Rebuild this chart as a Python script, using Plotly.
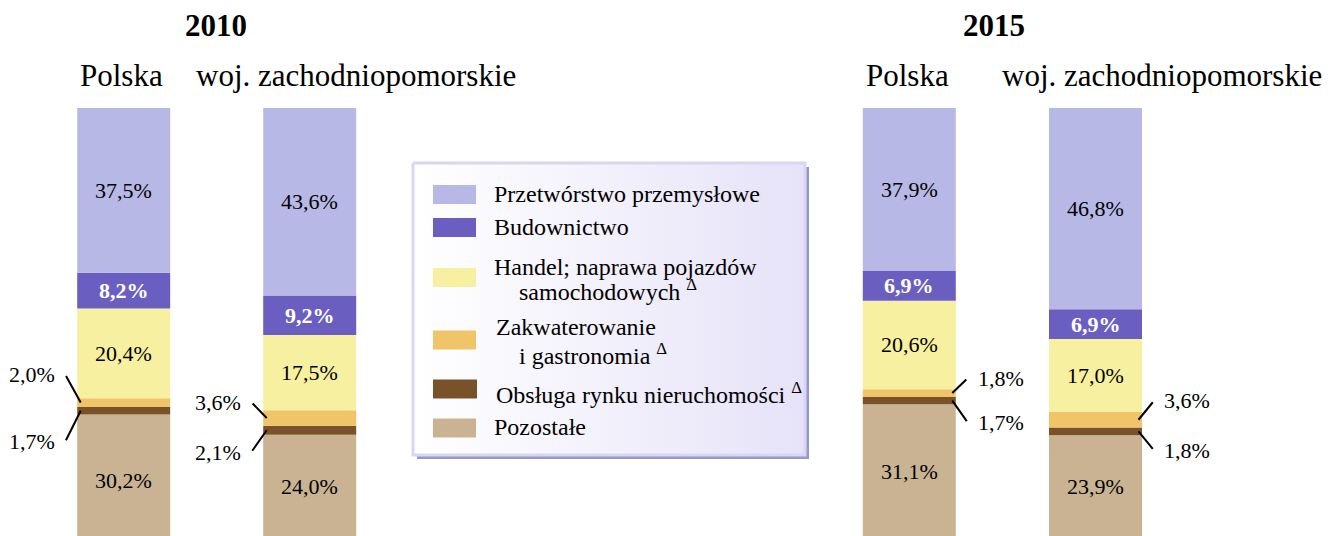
import plotly.graph_objects as go

# ---------------- data ----------------
bar_year = ["2010", "2010", "2015", "2015"]
bar_names = ["Polska", "woj. zachodniopomorskie", "Polska", "woj. zachodniopomorskie"]

pozostale = [30.2, 24.0, 31.1, 23.9]
obsluga = [1.7, 2.1, 1.7, 1.8]
zakwaterowanie = [2.0, 3.6, 1.8, 3.6]
handel = [20.4, 17.5, 20.6, 17.0]
budownictwo = [8.2, 9.2, 6.9, 6.9]
przetworstwo = [37.5, 43.6, 37.9, 46.8]

# stacking order: bottom -> top
series_values = [pozostale, obsluga, zakwaterowanie, handel, budownictwo, przetworstwo]
series_names = ["Pozostałe", "Obsługa rynku nieruchomości", "Zakwaterowanie i gastronomia",
                "Handel; naprawa pojazdów samochodowych", "Budownictwo", "Przetwórstwo przemysłowe"]
legend_lines = [
    ["Pozostałe"],
    ["Obsługa rynku nieruchomości <sup>Δ</sup>"],
    ["Zakwaterowanie", "i gastronomia <sup>Δ</sup>"],
    ["Handel; naprawa pojazdów", "samochodowych <sup>Δ</sup>"],
    ["Budownictwo"],
    ["Przetwórstwo przemysłowe"],
]

# ---------------- style / layout ----------------
colors = ["#c9b393", "#7a5229", "#f0c468", "#f7f0a0", "#6a5fc1", "#b8b8e6"]
W, H = 1344, 536
FONT = "Liberation Serif, Times New Roman, serif"
BAR_X = [123.7, 309.7, 909.3, 1095.5]
BAR_W = 93
BAR_AXIS = ["y2", "y", "y", "y"]
inside_series = [0, 3, 4, 5]
small_series = [2, 1]          # zakwaterowanie (up), obsluga (down)
lead_side = [-1, -1, 1, 1]     # -1 left of bar, 1 right of bar
lead_up = [28, 16, 15, 19]
lead_down = [31, 22, 22, 19]


def px(x):
    return x / W


def py(y):
    return 1 - y / H


fig = go.Figure()
annotations = []
shapes = []

# legend box: shadow + gradient panel
LB = dict(x0=413, x1=805, y0=163, y1=455)
shapes.append(dict(type="rect", xref="paper", yref="paper",
                   x0=px(LB["x0"] + 4), x1=px(LB["x1"] + 4), y0=py(LB["y1"] + 4), y1=py(LB["y0"] + 4),
                   fillcolor="#9a98c6", line=dict(width=0), layer="below"))
fig.add_trace(go.Scatter(
    x=[LB["x0"], LB["x1"], LB["x1"], LB["x0"], LB["x0"]],
    y=[LB["y0"], LB["y0"], LB["y1"], LB["y1"], LB["y0"]],
    xaxis="x", yaxis="y3", mode="lines", fill="toself",
    fillgradient=dict(type="horizontal", colorscale=[[0, "#ffffff"], [1, "#e6e2f8"]]),
    line=dict(color="#d8d6f4", width=3), hoverinfo="skip", showlegend=False))

# bars
n = len(bar_year)
bases = [[0.0] * n]
for s in series_values:
    bases.append([bases[-1][i] + s[i] for i in range(n)])

for si, vals in enumerate(series_values):
    for ax in ["y", "y2"]:
        idx = [i for i in range(n) if BAR_AXIS[i] == ax]
        fig.add_trace(go.Bar(
            x=[BAR_X[i] for i in idx], y=[vals[i] for i in idx], base=[bases[si][i] for i in idx],
            width=BAR_W, marker=dict(color=colors[si], line=dict(width=0)),
            yaxis=ax, xaxis="x", name=series_names[si], showlegend=False, hoverinfo="skip"))


def fmt(v):
    return f"{v:.1f}".replace(".", ",") + "%"


for i in range(n):
    ax = BAR_AXIS[i]
    for si in inside_series:
        mid = bases[si][i] + series_values[si][i] / 2
        bold = si == 4
        annotations.append(dict(
            x=BAR_X[i], y=mid, xref="x", yref=ax, showarrow=False,
            xanchor="center", yanchor="middle",
            text=f"<b>{fmt(series_values[si][i])}</b>" if bold else fmt(series_values[si][i]),
            font=dict(family=FONT, size=22, color="white" if bold else "black")))
    side = lead_side[i]
    edge = BAR_X[i] + side * BAR_W / 2
    for k, si in enumerate(small_series):
        mid = bases[si][i] + series_values[si][i] / 2
        dy = lead_up[i] if k == 0 else -lead_down[i]
        # leader line (arrow without head, no text)
        annotations.append(dict(
            x=edge - side * 3.5, y=mid, xref="x", yref=ax, text="", showarrow=True,
            arrowhead=0, arrowwidth=2, arrowcolor="black", standoff=0, startstandoff=0,
            axref="pixel", ayref="pixel", ax=side * 15.5, ay=-dy))
        annotations.append(dict(
            x=edge, y=mid, xref="x", yref=ax, showarrow=False,
            xshift=side * 20, yshift=dy, xanchor="left" if side > 0 else "right", yanchor="middle",
            text=fmt(series_values[si][i]),
            font=dict(family=FONT, size=22, color="black")))

# headers
year_x = {"2010": 216, "2015": 994}
for yr, xx in year_x.items():
    annotations.append(dict(x=px(xx), y=py(26), xref="paper", yref="paper", showarrow=False,
                            xanchor="center", yanchor="middle",
                            text=f"<b>{yr}</b>", font=dict(family=FONT, size=31, color="black")))
name_x = [121, 356, 907.5, 1162]
for i in range(n):
    annotations.append(dict(x=px(name_x[i]), y=py(75), xref="paper", yref="paper", showarrow=False,
                            xanchor="center", yanchor="middle",
                            text=bar_names[i], font=dict(family=FONT, size=31, color="black")))

# legend entries (series index, swatch center y, text lines [(x, y)])
legend_layout = [
    (5, 194.5, [(492, 194)]),
    (4, 227.5, [(492, 227)]),
    (3, 277.5, [(492, 267), (517, 290)]),
    (2, 340, [(494, 327), (517, 354)]),
    (1, 389, [(494, 393)]),
    (0, 428, [(492, 427)]),
]
for si, sy, pos in legend_layout:
    shapes.append(dict(type="rect", xref="paper", yref="paper",
                       x0=px(433), x1=px(477 if si == 1 else 476), y0=py(sy + 9.5), y1=py(sy - 9.5),
                       fillcolor=colors[si], line=dict(width=0), layer="above"))
    for (tx, ty), line in zip(pos, legend_lines[si]):
        annotations.append(dict(x=px(tx), y=py(ty), xref="paper", yref="paper", showarrow=False,
                                xanchor="left", yanchor="middle", text=line,
                                font=dict(family=FONT, size=24, color="black")))

fig.update_layout(
    width=W, height=H, margin=dict(l=0, r=0, t=0, b=0),
    paper_bgcolor="white", plot_bgcolor="rgba(0,0,0,0)",
    barmode="overlay", showlegend=False,
    xaxis=dict(range=[0, W], visible=False, fixedrange=True),
    yaxis=dict(range=[(538 - H) / 430 * 100, 538 / 430 * 100], visible=False, fixedrange=True),
    yaxis2=dict(range=[(547 - H) / 439 * 100, 547 / 439 * 100], visible=False, overlaying="y",
                fixedrange=True),
    yaxis3=dict(range=[H, 0], visible=False, overlaying="y", fixedrange=True),
    annotations=annotations, shapes=shapes,
)

fig.write_html("out.html", config={"displayModeBar": False},
               post_script="document.body.style.margin='0';")
